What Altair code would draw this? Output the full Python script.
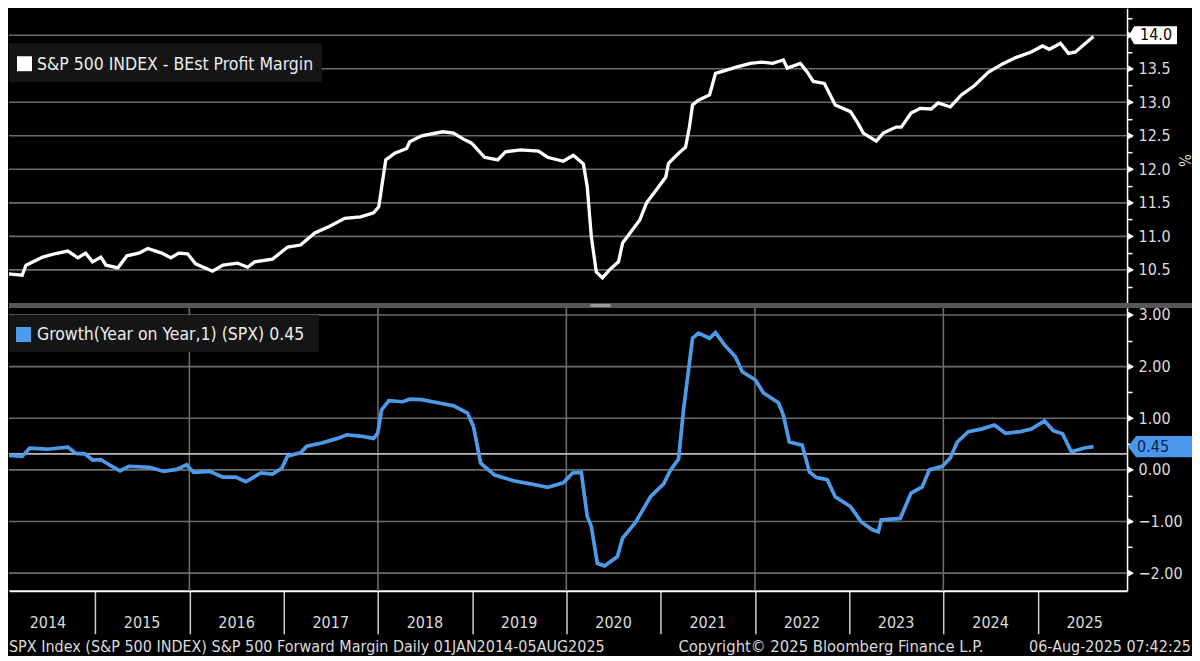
import altair as alt
import pandas as pd

FONT = "DejaVu Sans Condensed"

# ---------------- data ----------------
margin_dates = [
    "2014-01-02", "2014-03-24", "2014-04-08", "2014-06-12", "2014-07-28", "2014-09-17",
    "2014-10-26", "2014-11-25", "2014-12-22", "2015-01-23", "2015-02-12", "2015-03-30",
    "2015-05-04", "2015-06-19", "2015-07-24", "2015-09-16", "2015-10-21", "2015-11-21",
    "2015-12-25", "2016-01-25", "2016-03-31", "2016-05-10", "2016-07-06", "2016-08-14",
    "2016-09-10", "2016-11-18", "2017-01-16", "2017-03-07", "2017-05-01", "2017-06-28",
    "2017-08-25", "2017-10-26", "2017-12-15", "2018-01-04", "2018-01-31", "2018-03-07",
    "2018-04-22", "2018-05-04", "2018-06-19", "2018-09-08", "2018-10-21", "2018-11-28",
    "2018-12-30", "2019-02-18", "2019-04-10", "2019-05-10", "2019-07-07", "2019-09-15",
    "2019-10-20", "2019-12-20", "2020-01-28", "2020-03-07", "2020-03-22", "2020-04-07",
    "2020-04-26", "2020-05-20", "2020-06-16", "2020-07-21", "2020-08-06", "2020-09-06",
    "2020-10-11", "2020-11-07", "2020-12-20", "2021-01-20", "2021-01-31", "2021-03-11",
    "2021-04-07", "2021-04-22", "2021-05-04", "2021-05-27", "2021-07-09", "2021-08-01",
    "2021-09-13", "2021-10-17", "2021-12-14", "2022-01-26", "2022-03-10", "2022-04-21",
    "2022-05-06", "2022-06-26", "2022-07-23", "2022-08-15", "2022-09-27", "2022-11-08",
    "2023-01-06", "2023-02-02", "2023-02-25", "2023-04-16", "2023-05-13", "2023-07-02",
    "2023-07-22", "2023-08-29", "2023-10-03", "2023-11-15", "2023-12-12", "2024-01-28",
    "2024-03-11", "2024-05-01", "2024-06-24", "2024-08-21", "2024-10-10", "2024-12-07",
    "2025-01-19", "2025-02-15", "2025-03-30", "2025-04-30", "2025-05-27", "2025-07-05",
    "2025-08-05",
]
margin_values = [
    10.45, 10.42, 10.57, 10.69, 10.74, 10.78,
    10.68, 10.75, 10.62, 10.69, 10.57, 10.53,
    10.71, 10.75, 10.82, 10.75, 10.68, 10.75,
    10.74, 10.59, 10.48, 10.57, 10.60, 10.54,
    10.62, 10.66, 10.84, 10.87, 11.05, 11.15,
    11.27, 11.29, 11.35, 11.44, 12.14, 12.24,
    12.31, 12.41, 12.50, 12.56, 12.54, 12.45,
    12.39, 12.18, 12.14, 12.26, 12.29, 12.27,
    12.18, 12.12, 12.21, 12.08, 11.74, 10.99,
    10.47, 10.38, 10.50, 10.62, 10.90, 11.06,
    11.24, 11.50, 11.72, 11.88, 12.09, 12.24,
    12.33, 12.63, 12.96, 13.03, 13.11, 13.43,
    13.48, 13.52, 13.58, 13.60, 13.58, 13.63,
    13.51, 13.58, 13.45, 13.31, 13.28, 12.96,
    12.86, 12.70, 12.54, 12.42, 12.54, 12.63,
    12.63, 12.84, 12.91, 12.90, 12.99, 12.93,
    13.11, 13.25, 13.45, 13.58, 13.67, 13.75,
    13.84, 13.79, 13.88, 13.73, 13.75, 13.88,
    13.98,
]

growth_dates = [
    "2014-01-02", "2014-03-24", "2014-04-22", "2014-06-28", "2014-09-17", "2014-10-18",
    "2014-11-22", "2014-12-22", "2015-01-23", "2015-02-27", "2015-04-07", "2015-05-12",
    "2015-07-31", "2015-09-24", "2015-11-13", "2015-12-21", "2016-01-18", "2016-03-20",
    "2016-05-10", "2016-06-29", "2016-08-07", "2016-10-04", "2016-11-18", "2016-12-24",
    "2017-01-16", "2017-03-07", "2017-03-31", "2017-05-28", "2017-07-28", "2017-09-02",
    "2017-11-02", "2017-12-15", "2017-12-31", "2018-01-15", "2018-02-12", "2018-04-07",
    "2018-05-04", "2018-06-19", "2018-08-31", "2018-10-21", "2018-12-14", "2019-01-06",
    "2019-02-03", "2019-03-29", "2019-06-10", "2019-08-14", "2019-10-20", "2019-12-20",
    "2020-01-25", "2020-02-28", "2020-03-22", "2020-04-07", "2020-04-30", "2020-05-28",
    "2020-07-17", "2020-08-06", "2020-09-25", "2020-11-22", "2021-01-12", "2021-02-08",
    "2021-03-11", "2021-03-30", "2021-05-04", "2021-05-27", "2021-07-09", "2021-08-01",
    "2021-09-05", "2021-10-17", "2021-11-13", "2022-01-03", "2022-02-03", "2022-04-02",
    "2022-04-21", "2022-05-14", "2022-07-03", "2022-07-31", "2022-08-27", "2022-10-08",
    "2022-11-08", "2023-01-06", "2023-02-17", "2023-04-01", "2023-04-24", "2023-05-05",
    "2023-07-18", "2023-08-29", "2023-10-11", "2023-11-08", "2023-12-28", "2024-01-28",
    "2024-02-24", "2024-04-07", "2024-05-27", "2024-07-17", "2024-08-29", "2024-10-26",
    "2024-12-07", "2025-01-27", "2025-03-02", "2025-04-07", "2025-05-11", "2025-06-27",
    "2025-08-05",
]
growth_values = [
    0.29, 0.26, 0.42, 0.40, 0.44, 0.32,
    0.31, 0.19, 0.20, 0.09, -0.02, 0.07,
    0.05, -0.03, 0.01, 0.10, -0.05, -0.03,
    -0.14, -0.14, -0.23, -0.06, -0.08, 0.03,
    0.27, 0.33, 0.46, 0.52, 0.61, 0.68,
    0.65, 0.61, 0.71, 1.16, 1.34, 1.32,
    1.37, 1.36, 1.29, 1.24, 1.10, 0.84,
    0.13, -0.10, -0.21, -0.27, -0.34, -0.25,
    -0.06, -0.05, -0.90, -1.10, -1.81, -1.86,
    -1.68, -1.32, -1.02, -0.52, -0.27, 0.00,
    0.21, 1.16, 2.55, 2.65, 2.55, 2.66,
    2.42, 2.19, 1.90, 1.74, 1.49, 1.30,
    1.06, 0.54, 0.48, -0.04, -0.15, -0.19,
    -0.52, -0.71, -1.01, -1.16, -1.20, -0.97,
    -0.94, -0.45, -0.33, 0.00, 0.07, 0.23,
    0.54, 0.74, 0.79, 0.87, 0.71, 0.74,
    0.79, 0.95, 0.76, 0.70, 0.35, 0.42,
    0.45,
]

years = [str(y) for y in range(2014, 2026)]
year_ticks = list(range(2015, 2026))
vgrid_years = [2016, 2018, 2020, 2022, 2024]
upper_grid = [10.5, 11.0, 11.5, 12.0, 12.5, 13.0, 13.5, 14.0]
upper_ticks = [10.25, 10.5, 10.75, 11.0, 11.25, 11.5, 11.75, 12.0, 12.25, 12.5,
               12.75, 13.0, 13.25, 13.5, 13.75, 14.0, 14.25]
lower_grid = [-2.0, -1.0, 0.0, 1.0, 2.0, 3.0]
lower_ticks = [-2.0, -1.5, -1.0, -0.5, 0.0, 0.5, 1.0, 1.5, 2.0, 2.5, 3.0]
last_margin = 14.0
last_growth = 0.45
growth_marker_line = 0.31

upper_legend = "S&P 500 INDEX - BEst Profit Margin"
lower_legend = "Growth(Year on Year,1) (SPX) 0.45"
footer_left = "SPX Index (S&P 500 INDEX) S&P 500 Forward Margin  Daily 01JAN2014-05AUG2025"
footer_mid = "Copyright\u00a9 2025 Bloomberg Finance L.P."
footer_right = "06-Aug-2025 07:42:25"

# ---------------- layout ----------------
W = 1119
H1 = 300
H2 = 283
GRID = "#6b6b6b"
LABEL = "#dcdcdc"

m_df = pd.DataFrame({"date": pd.to_datetime(margin_dates), "value": margin_values})
g_df = pd.DataFrame({"date": pd.to_datetime(growth_dates), "value": growth_values})
one = pd.DataFrame({"k": [0]})

xs = alt.Scale(domain=[alt.DateTime(year=2014, month=2, date=1),
                       alt.DateTime(year=2025, month=12, date=13)])
ys1 = alt.Scale(domain=[9.931, 14.402], nice=False, zero=False)
ys2 = alt.Scale(domain=[-2.342, 3.135], nice=False, zero=False)

yaxis1 = alt.Axis(orient="right", values=upper_ticks, grid=False, tickSize=5,
                  tickColor="white", tickWidth=1.5, domainColor="white", domainWidth=1.5,
                  labelExpr="datum.value % 0.5 == 0 && datum.value < 14 ? format(datum.value, '.1f') : ''",
                  labelColor=LABEL, labelFont=FONT, labelFontSize=16, labelPadding=6,
                  title="%", titleColor=LABEL, titleFont=FONT, titleFontSize=15,
                  titleFontWeight="normal", titleAngle=90, titleX=56, titleY=152,
                  titleAlign="center", titleBaseline="middle")
yaxis2 = alt.Axis(orient="right", values=lower_ticks, grid=False, tickSize=5,
                  tickColor="white", tickWidth=1.5, domainColor="white", domainWidth=1.5,
                  labelExpr="datum.value % 1 == 0 ? format(datum.value, '.2f') : ''",
                  labelColor=LABEL, labelFont=FONT, labelFontSize=16, labelPadding=6,
                  title=None)
xaxis2 = alt.Axis(values=[alt.DateTime(year=y, month=1, date=1) for y in year_ticks],
                  labels=False, tickSize=43, tickColor="#cfcfcf", tickWidth=1.5,
                  domainColor="white", domainWidth=2, grid=False, title=None)

box14 = "M -1 0 L -0.79 -0.375 L 1 -0.375 L 1 0.375 L -0.79 0.375 Z"
box045 = "M -1 0 L -0.75 -0.33 L 1 -0.33 L 1 0.33 L -0.75 0.33 Z"

# ---------- upper panel ----------
u_grid = alt.Chart(pd.DataFrame({"v": upper_grid})).mark_rule(
    color=GRID, strokeWidth=1.6).encode(y=alt.Y("v:Q", scale=ys1, axis=yaxis1))
u_line = alt.Chart(m_df).mark_line(color="white", strokeWidth=3.3, clip=True).encode(
    x=alt.X("date:T", scale=xs, axis=None),
    y=alt.Y("value:Q", scale=ys1, axis=yaxis1))
u_tri = alt.Chart(pd.DataFrame({"v": upper_grid})).mark_point(
    shape="triangle-right", filled=True, size=45, color="white", opacity=1).encode(
    x=alt.value(W + 4), y=alt.Y("v:Q", scale=ys1, axis=yaxis1))
u_leg_box = alt.Chart(one).mark_rect(color="#151515").encode(
    x=alt.value(0), x2=alt.value(313), y=alt.value(35), y2=alt.value(74))
u_leg_sq = alt.Chart(one).mark_rect(color="white").encode(
    x=alt.value(8), x2=alt.value(23), y=alt.value(48), y2=alt.value(63))
u_leg_txt = alt.Chart(one).mark_text(
    text=upper_legend, align="left", baseline="middle", font=FONT, fontSize=17.5,
    color="#ececec").encode(x=alt.value(28), y=alt.value(57))
u_val_box = alt.Chart(pd.DataFrame({"v": [last_margin]})).mark_point(
    shape=box14, filled=True, size=48 * 48, color="white", opacity=1, strokeWidth=0).encode(
    x=alt.value(W + 26), y=alt.Y("v:Q", scale=ys1, axis=yaxis1))
u_val_txt = alt.Chart(pd.DataFrame({"v": [last_margin]})).mark_text(
    align="center", baseline="middle", font=FONT, fontSize=16, color="black").encode(
    x=alt.value(W + 29), y=alt.Y("v:Q", scale=ys1, axis=yaxis1),
    text=alt.Text("v:Q", format=".1f"))
u_sep = alt.Chart(one).mark_rect(color="#575757").encode(
    x=alt.value(0), x2=alt.value(W + 65), y=alt.value(H1 - 5), y2=alt.value(H1))
u_handle = alt.Chart(one).mark_rect(color="#9a9a9a").encode(
    x=alt.value(582), x2=alt.value(602), y=alt.value(H1 - 4), y2=alt.value(H1 - 1))

upper = alt.layer(u_grid, u_line, u_tri, u_leg_box, u_leg_sq, u_leg_txt,
                  u_val_box, u_val_txt, u_sep, u_handle).properties(width=W, height=H1)

# ---------- lower panel ----------
l_vgrid = alt.Chart(pd.DataFrame({"d": pd.to_datetime([f"{y}-01-01" for y in vgrid_years])})).mark_rule(
    color=GRID, strokeWidth=1.6).encode(x=alt.X("d:T", scale=xs, axis=xaxis2))
l_grid = alt.Chart(pd.DataFrame({"v": lower_grid})).mark_rule(
    color=GRID, strokeWidth=1.6).encode(y=alt.Y("v:Q", scale=ys2, axis=yaxis2))
l_mark = alt.Chart(pd.DataFrame({"v": [growth_marker_line]})).mark_rule(
    color="#bdbdbd", strokeWidth=1.6).encode(y=alt.Y("v:Q", scale=ys2, axis=yaxis2))
l_line = alt.Chart(g_df).mark_line(color="#4d9be8", strokeWidth=3.7, clip=True).encode(
    x=alt.X("date:T", scale=xs, axis=xaxis2),
    y=alt.Y("value:Q", scale=ys2, axis=yaxis2))
l_tri = alt.Chart(pd.DataFrame({"v": lower_grid})).mark_point(
    shape="triangle-right", filled=True, size=45, color="white", opacity=1).encode(
    x=alt.value(W + 4), y=alt.Y("v:Q", scale=ys2, axis=yaxis2))
l_leg_box = alt.Chart(one).mark_rect(color="#151515").encode(
    x=alt.value(0), x2=alt.value(310), y=alt.value(7), y2=alt.value(44))
l_leg_sq = alt.Chart(one).mark_rect(color="#4d9be8").encode(
    x=alt.value(7), x2=alt.value(22), y=alt.value(19), y2=alt.value(34))
l_leg_txt = alt.Chart(one).mark_text(
    text=lower_legend, align="left", baseline="middle", font=FONT, fontSize=17.5,
    color="#ececec").encode(x=alt.value(28), y=alt.value(27))
l_val_box = alt.Chart(pd.DataFrame({"v": [last_growth]})).mark_point(
    shape=box045, filled=True, size=64 * 64, color="#4a98ee", opacity=1, strokeWidth=0).encode(
    x=alt.value(W + 33), y=alt.Y("v:Q", scale=ys2, axis=yaxis2))
l_val_txt = alt.Chart(pd.DataFrame({"v": [last_growth]})).mark_text(
    align="left", baseline="middle", font=FONT, fontSize=16, color="#0b2447").encode(
    x=alt.value(W + 10), y=alt.Y("v:Q", scale=ys2, axis=yaxis2),
    text=alt.Text("v:Q", format=".2f"))
l_years = alt.Chart(pd.DataFrame({"d": pd.to_datetime([f"{y}-07-02" for y in years]),
                                  "t": years})).mark_text(
    align="center", baseline="middle", font=FONT, fontSize=16, color=LABEL).encode(
    x=alt.X("d:T", scale=xs, axis=xaxis2), y=alt.value(H2 + 32), text="t:N")
l_foot1 = alt.Chart(one).mark_text(text=footer_left, align="left", baseline="middle",
                                   font=FONT, fontSize=16, color=LABEL).encode(
    x=alt.value(0), y=alt.value(H2 + 56))
l_foot2 = alt.Chart(one).mark_text(text=footer_mid, align="left", baseline="middle",
                                   font=FONT, fontSize=16.5, color=LABEL).encode(
    x=alt.value(670), y=alt.value(H2 + 56))
l_foot3 = alt.Chart(one).mark_text(text=footer_right, align="right", baseline="middle",
                                   font=FONT, fontSize=16, color=LABEL).encode(
    x=alt.value(W + 64), y=alt.value(H2 + 56))

lower = alt.layer(l_vgrid, l_grid, l_mark, l_line, l_tri, l_leg_box, l_leg_sq, l_leg_txt,
                  l_val_box, l_val_txt, l_years, l_foot1, l_foot2, l_foot3
                  ).properties(width=W, height=H2)

chart = alt.vconcat(upper, lower, spacing=0, bounds="flush", padding=0).resolve_scale(
    x="independent", y="independent").configure(background="black").configure_view(
    stroke=None)

chart.save("out.html", embed_options={"renderer": "svg", "actions": False})
